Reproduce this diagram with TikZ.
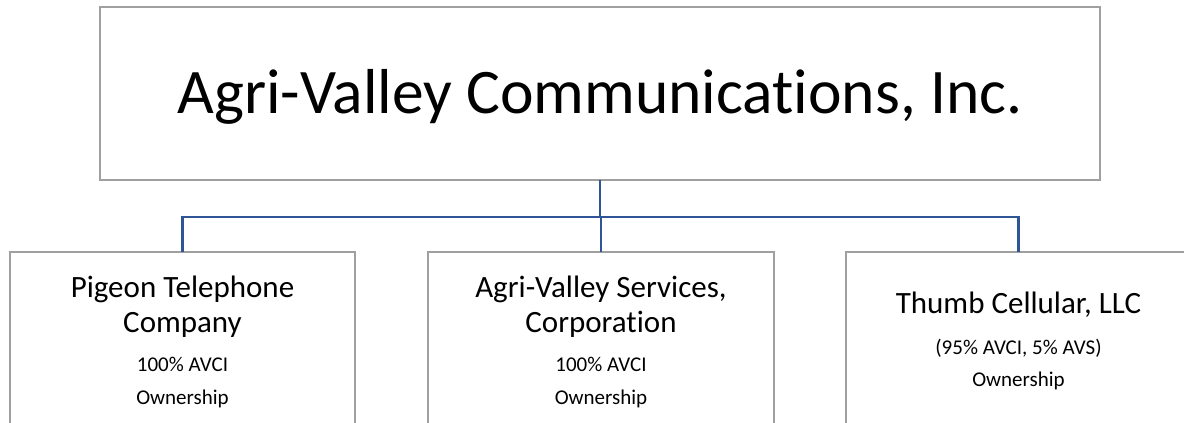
\documentclass[tikz,border=0pt]{standalone}
\usepackage{fontspec}
\setmainfont[Ligatures=NoCommon]{Carlito}
\definecolor{boxgray}{RGB}{160,160,160}
\definecolor{linkblue}{RGB}{47,85,151}
\tikzset{
  orgbox/.style={draw=boxgray, line width=1.4pt, rectangle, inner sep=0pt, outer sep=0pt},
  link/.style={draw=linkblue, line width=2.2pt},
  titletxt/.style={font=\fontsize{63.5}{70}\selectfont, anchor=base, inner sep=0pt},
  nametxt/.style={font=\fontsize{31}{36}\selectfont, anchor=base, inner sep=0pt},
  smalltxt/.style={font=\fontsize{21}{24}\selectfont, anchor=base, inner sep=0pt}
}
\begin{document}
\begin{tikzpicture}[x=1pt,y=-1pt]
\useasboundingbox[fill=white] (0,0) rectangle (1184,423);
% boxes
\node[orgbox, minimum width=1000pt, minimum height=173pt] (top) at (600,93.5) {};
\node[orgbox, minimum width=345pt, minimum height=250pt, anchor=north] (pig) at (182.5,252) {};
\node[orgbox, minimum width=346pt, minimum height=250pt, anchor=north] (avs) at (601,252) {};
\node[orgbox, minimum width=345pt, minimum height=250pt, anchor=north] (thumb) at (1018.5,252) {};
% texts
\node[titletxt] (toptxt) at (600,113) {Agri-Valley Communications, Inc.};
\node[nametxt] (pig1) at (182.5,297) {Pigeon Telephone};
\node[nametxt] (pig2) at (182.5,332) {Company};
\node[smalltxt] (pig3) at (182.5,371) {100\% AVCI};
\node[smalltxt] (pig4) at (182.5,404) {Ownership};
\node[nametxt] (avs1) at (601,297) {Agri-Valley Services,};
\node[nametxt] (avs2) at (601,332) {Corporation};
\node[smalltxt] (avs3) at (601,371) {100\% AVCI};
\node[smalltxt] (avs4) at (601,404) {Ownership};
\node[nametxt] (thumb1) at (1018.5,313) {Thumb Cellular, LLC};
\node[smalltxt] (thumb2) at (1018.5,354) {(95\% AVCI, 5\% AVS)};
\node[smalltxt] (thumb3) at (1018.5,386) {Ownership};
% connectors
\draw[link] (top.south) -- ++(0,37) coordinate (bus);
\draw[link] (pig.north) |- (bus);
\draw[link] (thumb.north) |- (bus);
\draw[link] (avs.north) -- (avs.north |- bus);
\end{tikzpicture}
\end{document}
